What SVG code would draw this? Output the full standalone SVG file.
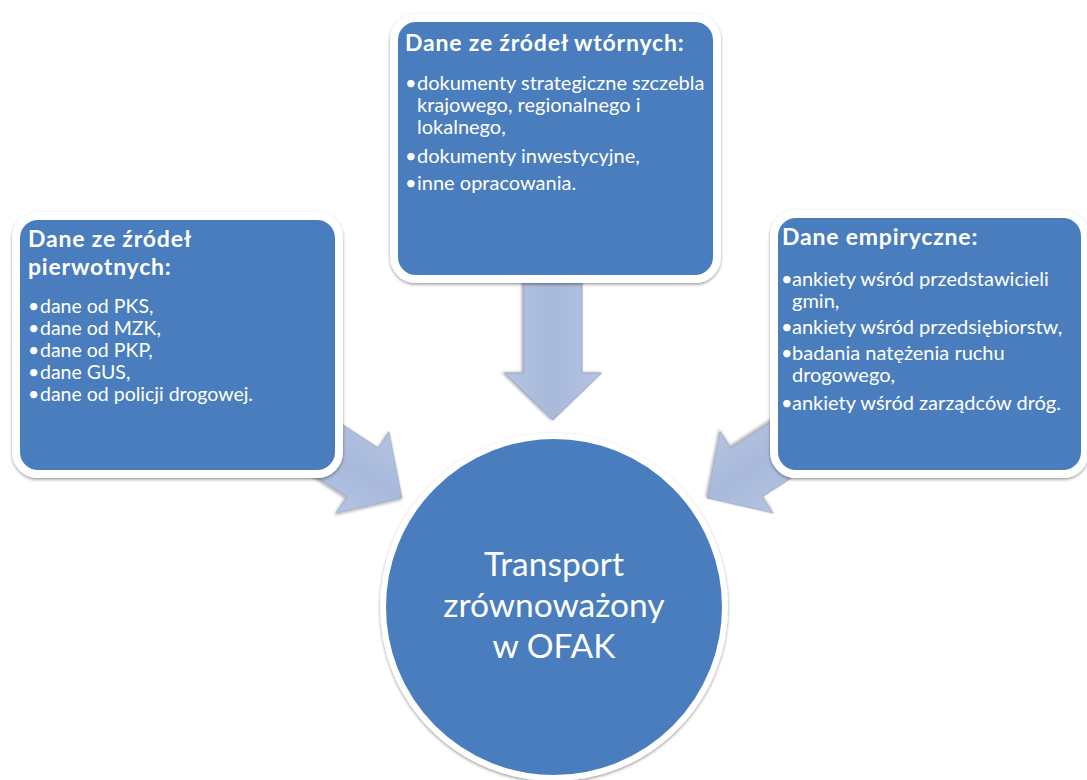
<svg xmlns="http://www.w3.org/2000/svg" width="1087" height="780" viewBox="0 0 1087 780">
<defs>
<style>
.t{font-family:Lato,"Open Sans","Liberation Sans",sans-serif;fill:#ffffff}
.h{font-weight:bold;font-size:23px;letter-spacing:0.8px}
.b{font-size:20px}
.bs{font-size:19.5px}
.c{font-size:33.5px;text-anchor:middle}
.box{fill:#4a7dbd;stroke:#ffffff;stroke-width:8}
.arr{fill:url(#ag);stroke:#9aa7c2;stroke-width:1}
</style>
<linearGradient id="ag" x1="0" y1="0" x2="0" y2="1">
<stop offset="0" stop-color="#b4c3e0"/>
<stop offset="0.5" stop-color="#a8b9dc"/>
<stop offset="1" stop-color="#b4c3e0"/>
</linearGradient>
<filter id="sh" x="-10%" y="-10%" width="120%" height="120%">
<feDropShadow dx="0" dy="1.5" stdDeviation="1.8" flood-color="#000" flood-opacity="0.4"/>
</filter>
<path id="arrow" d="M0,0 L-47,-48.5 L-47,-29 L-150,-29 L-150,29 L-47,29 L-47,48.5 Z"/>
</defs>
<rect width="1087" height="780" fill="#ffffff"/>
<g id="connectors">
<use href="#arrow" class="arr" transform="translate(553,420) rotate(90)" filter="url(#sh)"/>
<use href="#arrow" class="arr" transform="translate(402,498) rotate(33)" filter="url(#sh)"/>
<use href="#arrow" class="arr" transform="translate(707,498) rotate(147)" filter="url(#sh)"/>
</g>
<g id="node-center">
<circle cx="554" cy="607" r="171" fill="#4a7dbd" stroke="#ffffff" stroke-width="6" filter="url(#sh)"/>
<text class="t c"><tspan x="554" y="576">Transport</tspan><tspan x="554" y="617">zrównoważony</tspan><tspan x="554" y="658">w OFAK</tspan></text>
</g>
<g id="node-top">
<rect class="box" x="394" y="18" width="323" height="261" rx="22" filter="url(#sh)"/>
<text class="t h" x="405" y="51">Dane ze źródeł wtórnych:</text>
<text class="t b" x="405" y="90">•<tspan x="417">dokumenty strategiczne szczebla</tspan><tspan x="417" y="112">krajowego, regionalnego i</tspan><tspan x="417" y="134">lokalnego,</tspan></text>
<text class="t b" x="405" y="163">•<tspan x="417">dokumenty inwestycyjne,</tspan></text>
<text class="t b" x="405" y="190">•<tspan x="417">inne opracowania.</tspan></text>
</g>
<g id="node-left">
<rect class="box" x="16" y="216" width="323" height="258" rx="22" filter="url(#sh)"/>
<text class="t h"><tspan x="28" y="247">Dane ze źródeł</tspan><tspan x="28" y="275">pierwotnych:</tspan></text>
<text class="t bs" x="28" y="313">•<tspan x="40">dane od PKS,</tspan></text>
<text class="t bs" x="28" y="335">•<tspan x="40">dane od MZK,</tspan></text>
<text class="t bs" x="28" y="357">•<tspan x="40">dane od PKP,</tspan></text>
<text class="t bs" x="28" y="379">•<tspan x="40">dane GUS,</tspan></text>
<text class="t bs" x="28" y="401">•<tspan x="40">dane od policji drogowej.</tspan></text>
</g>
<g id="node-right">
<rect class="box" x="774" y="214" width="311" height="260" rx="22" filter="url(#sh)"/>
<text class="t h" x="782" y="245">Dane empiryczne:</text>
<text class="t b" x="781" y="286">•<tspan x="792">ankiety wśród przedstawicieli</tspan><tspan x="792" y="308">gmin,</tspan></text>
<text class="t b" x="781" y="334">•<tspan x="792">ankiety wśród przedsiębiorstw,</tspan></text>
<text class="t b" x="781" y="360">•<tspan x="792">badania natężenia ruchu</tspan><tspan x="792" y="382">drogowego,</tspan></text>
<text class="t b" x="781" y="410">•<tspan x="792">ankiety wśród zarządców dróg.</tspan></text>
</g>
</svg>
